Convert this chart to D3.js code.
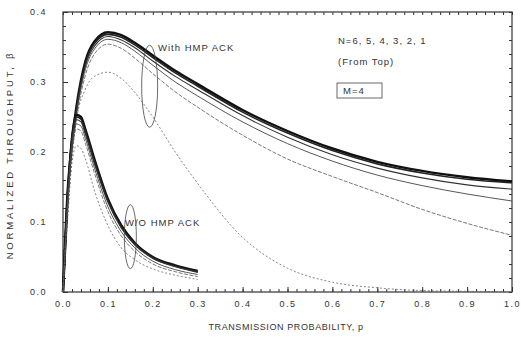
<!DOCTYPE html>
<html>
<head>
<meta charset="utf-8">
<script src="https://cdn.jsdelivr.net/npm/d3@7"></script>
<style>
body { margin: 0; background: #fff; }
text { font-family: "Liberation Sans", Arial, sans-serif; fill: #333; }
</style>
</head>
<body>
<script>
// transmission probability grid
const pWith = [0, .01, .02, .03, .05, .07, .1, .13, .16, .2, .25, .3, .4, .5, .6, .7, .8, .9, 1.0]
const pWo = [0, .01, .02, .03, .04, .05, .07, .1, .13, .16, .2, .25, .3]

// with HMP ACK, N = 6..1
const withN6 = [0, .14, .215, .265, .33, .358, .371, .367, .356, .338, .316, .297, .26, .23, .205, .186, .173, .164, .158]
const withN5 = [0, .138, .212, .262, .327, .355, .368, .364, .353, .335, .313, .294, .257, .227, .202, .183, .170, .161, .156]
const withN4 = [0, .135, .208, .258, .323, .351, .365, .36, .349, .33, .308, .289, .252, .221, .196, .177, .163, .153, .147]
const withN3 = [0, .13, .203, .253, .318, .347, .361, .356, .344, .324, .3, .28, .243, .212, .187, .167, .152, .14, .130]
const withN2 = [0, .125, .197, .247, .31, .34, .354, .348, .334, .312, .286, .264, .224, .19, .165, .142, .118, .098, .081]
const withN1 = [0, .1, .19, .245, .29, .308, .314, .305, .285, .25, .2, .155, .078, .034, .014, .006, .002, .001, 0]

// without HMP ACK, N = 6..1
const woN6 = [0, .13, .22, .253, .25, .232, .19, .133, .095, .07, .05, .038, .030]
const woN5 = [0, .13, .218, .25, .247, .229, .187, .131, .093, .069, .049, .037, .029]
const woN4 = [0, .128, .215, .246, .243, .225, .183, .128, .091, .067, .048, .036, .028]
const woN3 = [0, .125, .21, .24, .237, .219, .177, .122, .086, .063, .044, .032, .025]
const woN2 = [0, .122, .205, .233, .23, .212, .17, .115, .08, .058, .04, .029, .022]
const woN1 = [0, .11, .185, .209, .205, .19, .145, .095, .063, .046, .033, .024, .018]

const xTicks = [0, .1, .2, .3, .4, .5, .6, .7, .8, .9, 1.0]
const yTicks = [0, .1, .2, .3, .4]

const W = 521, H = 345
const svg = d3.select("body").append("svg").attr("width", W).attr("height", H)

const x = d3.scaleLinear().domain([0, 1]).range([63, 512])
const y = d3.scaleLinear().domain([0, 0.4]).range([292, 12])

const fmt = d3.format(".1f")
const minorX = d3.range(0, 1.001, 0.02)
const minorY = d3.range(0, 0.401, 0.02)

// frame
svg.append("rect")
    .attr("x", x(0)).attr("y", y(0.4))
    .attr("width", x(1) - x(0)).attr("height", y(0) - y(0.4))
    .attr("fill", "none").attr("stroke", "#333").attr("stroke-width", 1.2)

let styleAxis = (g) => {
    g.select(".domain").remove()
    g.selectAll("line").attr("stroke", "#333")
    g.selectAll("text").attr("font-size", 9).attr("fill", "#444")
        .style("letter-spacing", "1.5px")
}

// bottom
svg.append("g").attr("transform", "translate(0," + y(0) + ")")
    .call(d3.axisBottom(x).tickValues(xTicks).tickSize(-5).tickPadding(9).tickFormat(fmt))
    .call(styleAxis)
svg.append("g").attr("transform", "translate(0," + y(0) + ")")
    .call(d3.axisBottom(x).tickValues(minorX).tickSize(-3).tickFormat(""))
    .call(styleAxis)
// top
svg.append("g").attr("transform", "translate(0," + y(0.4) + ")")
    .call(d3.axisTop(x).tickValues(minorX).tickSize(-3).tickFormat(""))
    .call(styleAxis)
// left
svg.append("g").attr("transform", "translate(" + x(0) + ",0)")
    .call(d3.axisLeft(y).tickValues(yTicks).tickSize(-5).tickPadding(16).tickFormat(fmt))
    .call(styleAxis)
svg.append("g").attr("transform", "translate(" + x(0) + ",0)")
    .call(d3.axisLeft(y).tickValues(minorY).tickSize(-3).tickFormat(""))
    .call(styleAxis)
// right
svg.append("g").attr("transform", "translate(" + x(1) + ",0)")
    .call(d3.axisRight(y).tickValues(minorY).tickSize(-3).tickFormat(""))
    .call(styleAxis)

// axis titles
svg.append("text")
    .attr("transform", "translate(13," + 155 + ") rotate(-90)")
    .attr("text-anchor", "middle").attr("font-size", 9.5)
    .style("letter-spacing", "2.8px")
    .text("NORMALIZED THROUGHPUT, β")
svg.append("text")
    .attr("x", 286).attr("y", 330)
    .attr("text-anchor", "middle").attr("font-size", 9)
    .style("letter-spacing", "0.6px")
    .text("TRANSMISSION PROBABILITY, p")

// curves
const line = d3.line()
    .x(d => x(d[0]))
    .y(d => y(d[1]))
    .curve(d3.curveMonotoneX)

const styles = [
    {w: 2.4, dash: null, c: "#111"},
    {w: 1.6, dash: null, c: "#222"},
    {w: 1.1, dash: null, c: "#333"},
    {w: 0.9, dash: null, c: "#444"},
    {w: 0.8, dash: "4,1.5", c: "#555"},
    {w: 0.8, dash: "2,2", c: "#666"}
]

let drawGroup = (ps, series) => {
    series.forEach((vals, i) => {
        svg.append("path")
            .datum(ps.map((p, k) => [p, vals[k]]))
            .attr("d", line)
            .attr("fill", "none")
            .attr("stroke", styles[i].c)
            .attr("stroke-width", styles[i].w)
            .attr("stroke-dasharray", styles[i].dash)
    })
}
drawGroup(pWith, [withN6, withN5, withN4, withN3, withN2, withN1])
drawGroup(pWo, [woN6, woN5, woN4, woN3, woN2, woN1])

// ellipses marking the two groups
svg.append("ellipse")
    .attr("cx", x(0.193)).attr("cy", y(0.294)).attr("rx", 8).attr("ry", 41)
    .attr("fill", "none").attr("stroke", "#444").attr("stroke-width", 0.8)
svg.append("ellipse")
    .attr("cx", x(0.15)).attr("cy", y(0.079)).attr("rx", 6).attr("ry", 32)
    .attr("fill", "none").attr("stroke", "#444").attr("stroke-width", 0.8)

// annotations
let note = (tx, ty, s) => svg.append("text")
    .attr("x", tx).attr("y", ty).attr("font-size", 9.5)
    .style("letter-spacing", "1px").text(s)
note(158, 51, "With HMP ACK")
note(125, 226, "W/O HMP ACK")
note(338, 44, "N=6, 5, 4, 3, 2, 1")
note(338, 65, "(From Top)")
note(343, 94, "M=4")
svg.append("rect")
    .attr("x", 337).attr("y", 83).attr("width", 45).attr("height", 15)
    .attr("fill", "none").attr("stroke", "#444").attr("stroke-width", 0.8)
</script>
</body>
</html>
